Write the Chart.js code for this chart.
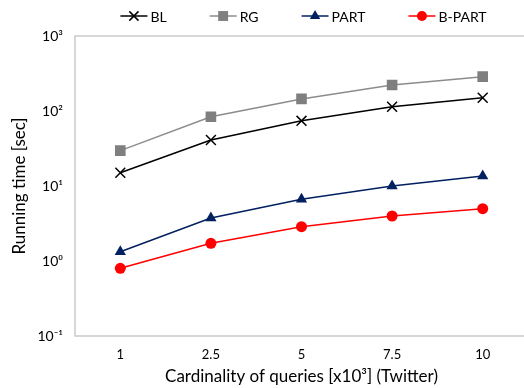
<!DOCTYPE html>
<html>
<head>
<meta charset="utf-8">
<script src="https://cdn.jsdelivr.net/npm/chart.js@4.4.1/dist/chart.umd.min.js"></script>
<style>
  html, body { margin: 0; padding: 0; overflow: hidden; background: #fff; }
  #wrap { width: 524px; height: 388px; overflow: hidden; position: relative; }
  canvas { display: block; }
</style>
</head>
<body>
<div id="wrap"><canvas id="myChart" width="540" height="388"></canvas></div>
<script>
const categories = ["1", "2.5", "5", "7.5", "10"];
const blTimes = [15, 41, 74, 114, 150];
const rgTimes = [29.6, 84, 145, 222, 287];
const partTimes = [1.33, 3.74, 6.65, 10, 13.6];
const bPartTimes = [0.8, 1.72, 2.87, 3.98, 4.98];
const yTicks = [0.1, 1, 10, 100, 1000];
const yTickLabels = ["10⁻¹", "10⁰", "10¹", "10²", "10³"];

const fontFamily = "Lato, 'Open Sans', sans-serif";
const textColor = "#000000";

function series(label, data, color, lineColor, pointStyle, radius) {
  return {
    label: label,
    data: data,
    borderColor: lineColor,
    backgroundColor: color,
    borderWidth: 1.5,
    pointStyle: pointStyle,
    pointRadius: radius,
    pointHoverRadius: radius,
    pointBackgroundColor: color,
    pointBorderColor: color,
    pointBorderWidth: pointStyle === "crossRot" ? 1.5 : 0,
    tension: 0,
  };
}

const datasets = [
  series("BL", blTimes, "#000000", "#000000", "crossRot", 7),
  series("RG", rgTimes, "#7F7F7F", "#8C8C8C", "rect", 7.5),
  series("PART", partTimes, "#002060", "#002060", "triangle", 6.5),
  series("B-PART", bPartTimes, "#FF0000", "#FF0000", "circle", 5.5),
];

// light grey frame round the plot area (its right side runs past the visible page)
const plotFrame = {
  id: "plotFrame",
  beforeDatasetsDraw(chart) {
    const { ctx, chartArea } = chart;
    ctx.save();
    ctx.strokeStyle = "#CACACA";
    ctx.lineWidth = 1.5;
    ctx.strokeRect(chartArea.left, chartArea.top, chartArea.right - chartArea.left, chartArea.bottom - chartArea.top);
    ctx.restore();
  },
};

// legend drawn as line + marker, like the series themselves
const lineLegend = {
  id: "lineLegend",
  afterDraw(chart) {
    const { ctx, chartArea } = chart;
    const lineLen = 27, gap = 3, spacing = 43, y = 16;
    ctx.save();
    ctx.font = "14px " + fontFamily;
    ctx.textBaseline = "middle";
    const items = chart.data.datasets.map((ds) => ({
      ds: ds,
      w: lineLen + gap + ctx.measureText(ds.label).width,
    }));
    const total = items.reduce((s, it) => s + it.w, 0) + spacing * (items.length - 1);
    let x = (chartArea.left + chartArea.right) / 2 + 2 - total / 2;
    items.forEach(({ ds, w }) => {
      ctx.strokeStyle = ds.borderColor;
      ctx.lineWidth = ds.borderWidth;
      ctx.beginPath();
      ctx.moveTo(x, y);
      ctx.lineTo(x + lineLen, y);
      ctx.stroke();
      ctx.fillStyle = ds.pointBackgroundColor;
      ctx.strokeStyle = ds.pointBorderColor;
      ctx.lineWidth = ds.pointBorderWidth;
      Chart.helpers.drawPoint(ctx, {
        pointStyle: ds.pointStyle,
        radius: ds.pointRadius - 0.5,
        borderWidth: ds.pointBorderWidth,
        rotation: 0,
      }, x + lineLen / 2, y);
      ctx.fillStyle = textColor;
      ctx.fillText(ds.label, x + lineLen + gap, y + 1);
      x += w + spacing;
    });
    ctx.restore();
  },
};

new Chart(document.getElementById("myChart"), {
  type: "line",
  data: { labels: categories, datasets: datasets },
  options: {
    responsive: false,
    animation: false,
    layout: { padding: { left: 5, top: 36, right: 12, bottom: 0 } },
    plugins: {
      legend: { display: false },
      tooltip: { enabled: false },
    },
    scales: {
      x: {
        type: "category",
        offset: true,
        grid: { display: false, drawTicks: false },
        border: { display: false },
        ticks: { color: textColor, font: { family: fontFamily, size: 13 }, padding: 11 },
        title: {
          display: true,
          text: "Cardinality of queries [x10³] (Twitter)",
          color: textColor,
          font: { family: fontFamily, size: 17 },
          padding: { top: 0, bottom: 1 },
        },
        afterFit: (s) => {
          s.height = 52;
          s.paddingLeft = 0;
          s.paddingRight = 0;
        },
      },
      y: {
        type: "logarithmic",
        min: 0.1,
        max: 1000,
        afterBuildTicks: (s) => { s.ticks = yTicks.map((v) => ({ value: v })); },
        grid: { display: false, drawTicks: false },
        border: { display: false },
        ticks: {
          color: textColor,
          font: { family: fontFamily, size: 14 },
          padding: 12,
          callback: (v, i) => yTickLabels[i],
        },
        title: {
          display: true,
          text: "Running time [sec]",
          color: textColor,
          font: { family: fontFamily, size: 17 },
          padding: { top: 4, bottom: 4 },
        },
        afterFit: (s) => { s.width = 70; },
      },
    },
  },
  plugins: [plotFrame, lineLegend],
});
</script>
</body>
</html>
